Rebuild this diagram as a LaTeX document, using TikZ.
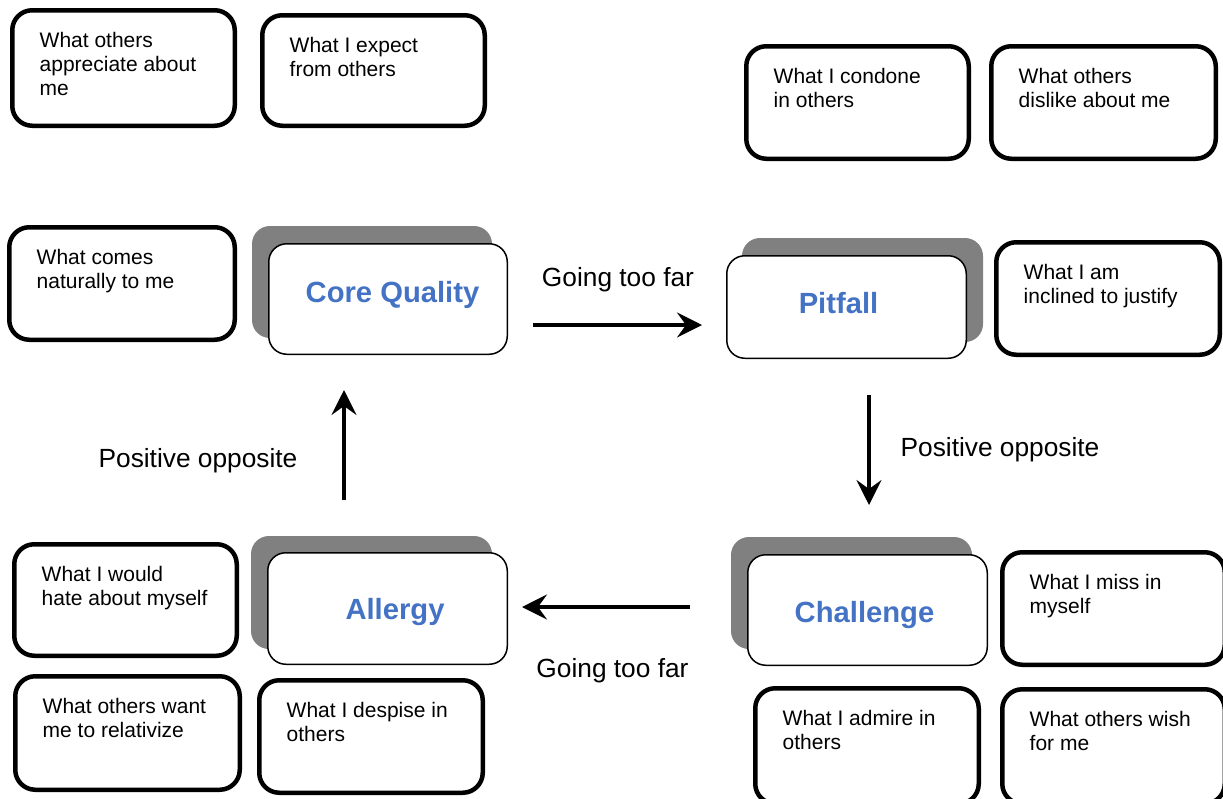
\documentclass[tikz,border=0pt]{standalone}
\usepackage{fontspec}
\setmainfont{Liberation Sans}
\usetikzlibrary{arrows.meta,calc}
\definecolor{qblue}{HTML}{4472C4}
\definecolor{shadowgray}{HTML}{808080}
\newcommand{\boxlines}[1]{\begin{tabular}[t]{@{}l@{}}#1\end{tabular}}
\tikzset{
  scard/.style={draw=black, line width=4.5pt, rounded corners=20pt, fill=white, inner sep=0pt},
  ctext/.style={anchor=base west, inner sep=0pt, font=\fontsize{21}{24.3}\selectfont},
  bcard/.style={draw=black, line width=1.5pt, rounded corners=18pt, fill=white, inner sep=0pt},
  bshadow/.style={fill=shadowgray, draw=none, rounded corners=18pt, inner sep=0pt},
  btext/.style={anchor=base, inner sep=0pt, text=qblue, font=\fontsize{29.2}{34}\selectfont\bfseries},
  flowlabel/.style={anchor=base, inner sep=0pt, font=\fontsize{26.3}{30}\selectfont},
  flowarrow/.style={line width=3.3pt, -{Stealth[length=25pt, width=25pt, inset=9pt]}},
}
% name, x1, y1, x2, y2 (outer edges), text
\newcommand{\smallcard}[6]{%
  \node[scard, minimum width={#4-#2-4.5}, minimum height={#5-#3-4.5}] (#1) at ({(#2+#4)/2},{(#3+#5)/2}) {};
  \node[ctext] (#1t) at ($(#1.north west)+(29.5,39)$) {\boxlines{#6}};
}
% name, x1, y1, x2, y2 (outer edges of white card), dx, dy (shadow offset)
\newcommand{\bigcard}[7]{%
  \node[bshadow, minimum width={#4-#2}, minimum height={#5-#3}] (#1s) at ({(#2+#4)/2+#6},{(#3+#5)/2+#7}) {};
  \node[bcard, minimum width={#4-#2-1.5}, minimum height={#5-#3-1.5}] (#1) at ({(#2+#4)/2},{(#3+#5)/2}) {};
}
\begin{document}
\begin{tikzpicture}[x=1pt, y=-1pt]
\useasboundingbox (0,0) rectangle (1223,798);
\fill[white] (0,0) rectangle (1223,798);

% small cards
\smallcard{app}{10}{8}{237}{128}{What others\\appreciate about\\me}
\smallcard{exp}{260}{13}{487}{128}{What I expect\\from others}
\smallcard{con}{744}{44}{971}{161}{What I condone\\in others}
\smallcard{dis}{989}{44}{1218}{161}{What others\\dislike about me}
\smallcard{nat}{7}{225}{237}{342}{What comes\\naturally to me}
\smallcard{jus}{994}{240}{1222}{357}{What I am\\inclined to justify}
\smallcard{hat}{12}{542}{239}{658}{What I would\\hate about myself}
\smallcard{rel}{13}{674}{242}{792}{What others want\\me to relativize}
\smallcard{des}{257}{678}{485}{795}{What I despise in\\others}
\smallcard{mis}{1000}{550}{1227}{667}{What I miss in\\myself}
\smallcard{adm}{753}{686}{981}{806}{What I admire in\\others}
\smallcard{wis}{1000}{687}{1227}{806}{What others wish\\for me}

% main cards
\bigcard{cq}{268}{243}{508}{355}{-16}{-17}
\bigcard{pf}{726}{255}{967}{359}{16}{-17}
\bigcard{al}{267}{552}{508}{665}{-16}{-16}
\bigcard{ch}{747}{554}{988}{666}{-16}{-17}

\node[btext] (cqt) at (392.5,302) {Core Quality};
\node[btext] (pft) at (838.5,313) {Pitfall};
\node[btext] (alt) at (395,619) {Allergy};
\node[btext] (cht) at (864.5,622) {Challenge};

% connectors
\coordinate (g1s) at (533,325);
\coordinate (g1e) at (702,325);
\coordinate (p1s) at (869,395);
\coordinate (p1e) at (869,505);
\coordinate (g2s) at (690,607);
\coordinate (g2e) at (522,607);
\coordinate (p2s) at (344,500);
\coordinate (p2e) at (344,390);

\draw[flowarrow] (g1s) -- (g1e);
\draw[flowarrow] (p1s) -- (p1e);
\draw[flowarrow] (g2s) -- (g2e);
\draw[flowarrow] (p2s) -- (p2e);

\node[flowlabel] (l1) at (618,286) {Going too far};
\node[flowlabel] (l2) at (1000,456) {Positive opposite};
\node[flowlabel] (l3) at (612.5,677) {Going too far};
\node[flowlabel] (l4) at (198,467) {Positive opposite};
\end{tikzpicture}
\end{document}
